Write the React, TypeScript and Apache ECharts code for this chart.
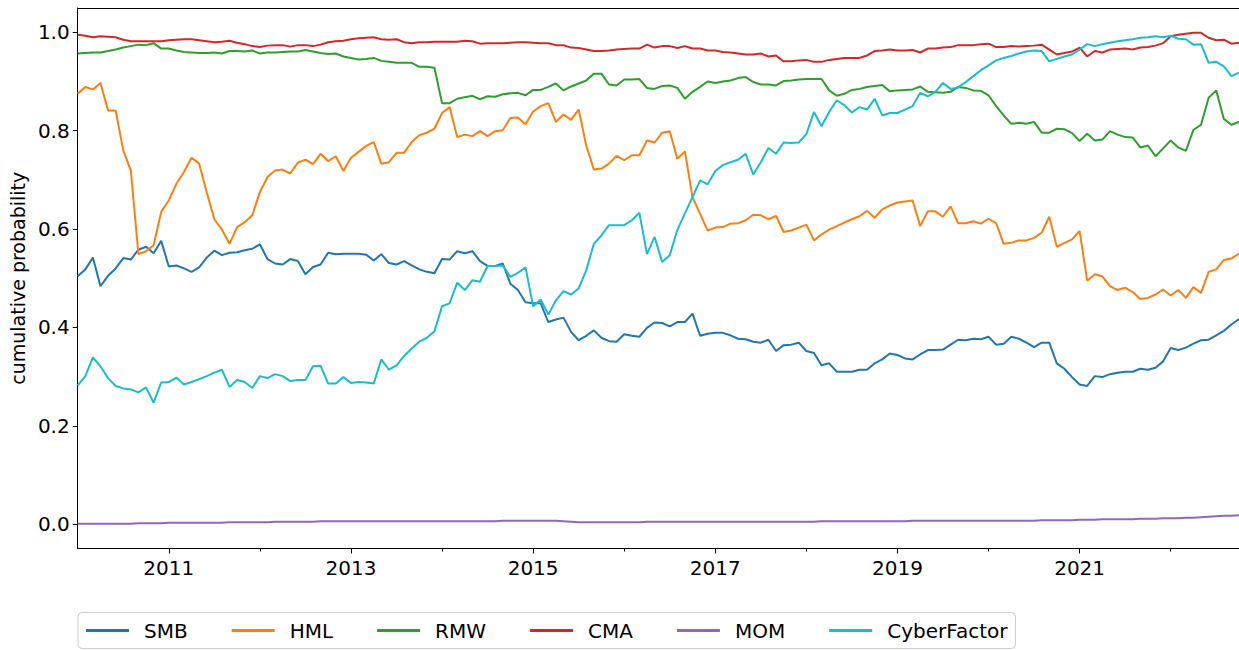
import React, { useEffect, useRef } from "react";
import * as echarts from "echarts";

// Monthly observations, Jan 2010 .. Oct 2022 (154 months), as decimal years
const START_YEAR = 2010;
const MONTH_COUNT = 154;
const months: number[] = Array.from({ length: MONTH_COUNT }, (_, i) => START_YEAR + i / 12);

const seriesNames = ["SMB", "HML", "RMW", "CMA", "MOM", "CyberFactor"];
const seriesColors = ["#1f77b4", "#ff7f0e", "#2ca02c", "#d62728", "#9467bd", "#17becf"];

const majorYearTicks = [2011, 2013, 2015, 2017, 2019, 2021];
const minorYearTicks = [2012, 2014, 2016, 2018, 2020, 2022];
const yTickValues = [0, 0.2, 0.4, 0.6, 0.8, 1.0];

const smb = [
  0.504, 0.518, 0.542, 0.484, 0.505, 0.520, 0.541, 0.538, 0.558, 0.564,
  0.551, 0.576, 0.524, 0.526, 0.520, 0.513, 0.522, 0.542, 0.556, 0.547,
  0.552, 0.553, 0.557, 0.560, 0.569, 0.539, 0.530, 0.528, 0.539, 0.535,
  0.508, 0.523, 0.528, 0.552, 0.549, 0.550, 0.550, 0.550, 0.548, 0.536,
  0.549, 0.531, 0.528, 0.535, 0.526, 0.518, 0.513, 0.510, 0.539, 0.538,
  0.555, 0.551, 0.555, 0.535, 0.525, 0.525, 0.530, 0.489, 0.476, 0.451,
  0.449, 0.449, 0.411, 0.416, 0.420, 0.391, 0.374, 0.383, 0.394, 0.379,
  0.372, 0.371, 0.386, 0.383, 0.381, 0.399, 0.410, 0.409, 0.402, 0.411,
  0.411, 0.428, 0.383, 0.387, 0.389, 0.389, 0.384, 0.377, 0.376, 0.371,
  0.369, 0.375, 0.352, 0.364, 0.365, 0.369, 0.352, 0.348, 0.323, 0.327,
  0.310, 0.310, 0.310, 0.314, 0.314, 0.327, 0.335, 0.347, 0.344, 0.337,
  0.335, 0.345, 0.354, 0.354, 0.355, 0.365, 0.375, 0.374, 0.377, 0.376,
  0.381, 0.365, 0.367, 0.381, 0.377, 0.369, 0.360, 0.369, 0.369, 0.327,
  0.316, 0.299, 0.284, 0.281, 0.301, 0.299, 0.305, 0.308, 0.310, 0.310,
  0.316, 0.314, 0.318, 0.331, 0.358, 0.354, 0.359, 0.367, 0.374, 0.375,
  0.384, 0.393, 0.406, 0.417,
];

const hml = [
  0.875, 0.889, 0.884, 0.897, 0.841, 0.841, 0.760, 0.719, 0.549, 0.555,
  0.567, 0.635, 0.658, 0.692, 0.716, 0.745, 0.733, 0.675, 0.620, 0.599,
  0.570, 0.604, 0.614, 0.628, 0.675, 0.706, 0.719, 0.721, 0.713, 0.735,
  0.741, 0.732, 0.753, 0.738, 0.748, 0.718, 0.745, 0.757, 0.769, 0.777,
  0.733, 0.736, 0.755, 0.755, 0.777, 0.791, 0.796, 0.804, 0.836, 0.848,
  0.787, 0.792, 0.789, 0.799, 0.789, 0.799, 0.801, 0.826, 0.827, 0.813,
  0.839, 0.850, 0.856, 0.818, 0.833, 0.822, 0.843, 0.770, 0.721, 0.723,
  0.733, 0.749, 0.740, 0.750, 0.750, 0.780, 0.776, 0.796, 0.799, 0.743,
  0.758, 0.665, 0.631, 0.597, 0.603, 0.604, 0.611, 0.612, 0.618, 0.629,
  0.628, 0.620, 0.627, 0.594, 0.597, 0.603, 0.609, 0.577, 0.589, 0.599,
  0.606, 0.613, 0.620, 0.626, 0.637, 0.623, 0.640, 0.648, 0.654, 0.656,
  0.658, 0.606, 0.636, 0.636, 0.625, 0.646, 0.612, 0.612, 0.616, 0.611,
  0.621, 0.612, 0.570, 0.572, 0.577, 0.577, 0.582, 0.593, 0.625, 0.564,
  0.572, 0.579, 0.596, 0.495, 0.508, 0.504, 0.484, 0.476, 0.481, 0.472,
  0.458, 0.460, 0.467, 0.477, 0.465, 0.476, 0.460, 0.482, 0.470, 0.513,
  0.518, 0.537, 0.540, 0.550,
];

const rmw = [
  0.957, 0.958, 0.959, 0.959, 0.962, 0.965, 0.969, 0.972, 0.975, 0.974,
  0.978, 0.967, 0.967, 0.963, 0.960, 0.959, 0.958, 0.958, 0.959, 0.957,
  0.962, 0.962, 0.961, 0.963, 0.957, 0.959, 0.959, 0.960, 0.961, 0.961,
  0.964, 0.961, 0.958, 0.956, 0.957, 0.951, 0.948, 0.945, 0.946, 0.948,
  0.942, 0.940, 0.938, 0.938, 0.938, 0.930, 0.930, 0.928, 0.856, 0.856,
  0.865, 0.868, 0.871, 0.864, 0.870, 0.869, 0.874, 0.876, 0.877, 0.872,
  0.883, 0.883, 0.889, 0.896, 0.882, 0.890, 0.896, 0.902, 0.916, 0.916,
  0.894, 0.892, 0.904, 0.904, 0.905, 0.887, 0.885, 0.891, 0.892, 0.887,
  0.865, 0.879, 0.889, 0.900, 0.897, 0.900, 0.902, 0.907, 0.909, 0.899,
  0.894, 0.894, 0.892, 0.901, 0.902, 0.904, 0.905, 0.905, 0.905, 0.882,
  0.871, 0.875, 0.883, 0.885, 0.889, 0.891, 0.893, 0.880, 0.882, 0.883,
  0.884, 0.890, 0.879, 0.878, 0.877, 0.879, 0.889, 0.887, 0.882, 0.881,
  0.872, 0.850, 0.831, 0.814, 0.816, 0.814, 0.818, 0.796, 0.796, 0.804,
  0.803, 0.795, 0.779, 0.794, 0.780, 0.782, 0.799, 0.792, 0.787, 0.786,
  0.766, 0.770, 0.748, 0.764, 0.780, 0.766, 0.759, 0.802, 0.812, 0.867,
  0.882, 0.824, 0.812, 0.818,
];

const cma = [
  0.995, 0.993, 0.990, 0.992, 0.991, 0.990, 0.985, 0.982, 0.982, 0.982,
  0.982, 0.982, 0.984, 0.985, 0.986, 0.986, 0.984, 0.982, 0.980, 0.981,
  0.983, 0.979, 0.976, 0.972, 0.970, 0.973, 0.974, 0.974, 0.971, 0.974,
  0.974, 0.972, 0.975, 0.980, 0.982, 0.983, 0.986, 0.988, 0.989, 0.990,
  0.986, 0.985, 0.986, 0.980, 0.978, 0.980, 0.980, 0.981, 0.981, 0.981,
  0.981, 0.983, 0.982, 0.977, 0.978, 0.978, 0.978, 0.979, 0.980, 0.980,
  0.979, 0.978, 0.978, 0.974, 0.974, 0.969, 0.968, 0.965, 0.962, 0.962,
  0.963, 0.965, 0.966, 0.967, 0.967, 0.975, 0.969, 0.972, 0.972, 0.968,
  0.972, 0.967, 0.967, 0.963, 0.963, 0.960, 0.959, 0.957, 0.955, 0.955,
  0.957, 0.951, 0.953, 0.941, 0.941, 0.943, 0.944, 0.940, 0.940, 0.944,
  0.946, 0.948, 0.948, 0.948, 0.953, 0.962, 0.963, 0.965, 0.963, 0.963,
  0.964, 0.959, 0.967, 0.967, 0.969, 0.970, 0.974, 0.974, 0.974, 0.976,
  0.977, 0.970, 0.970, 0.972, 0.971, 0.972, 0.973, 0.975, 0.965, 0.955,
  0.958, 0.961, 0.969, 0.951, 0.962, 0.959, 0.965, 0.966, 0.967, 0.965,
  0.969, 0.970, 0.973, 0.978, 0.992, 0.995, 0.997, 0.999, 0.999, 0.989,
  0.984, 0.985, 0.977, 0.979,
];

const mom = [
  0.001, 0.001, 0.001, 0.001, 0.001, 0.001, 0.001, 0.001, 0.002, 0.002,
  0.002, 0.002, 0.003, 0.003, 0.003, 0.003, 0.003, 0.003, 0.003, 0.003,
  0.004, 0.004, 0.004, 0.004, 0.004, 0.004, 0.005, 0.005, 0.005, 0.005,
  0.005, 0.005, 0.006, 0.006, 0.006, 0.006, 0.006, 0.006, 0.006, 0.006,
  0.006, 0.006, 0.006, 0.006, 0.006, 0.006, 0.006, 0.006, 0.006, 0.006,
  0.006, 0.006, 0.006, 0.006, 0.006, 0.006, 0.007, 0.007, 0.007, 0.007,
  0.007, 0.007, 0.007, 0.007, 0.006, 0.005, 0.004, 0.004, 0.004, 0.004,
  0.004, 0.004, 0.004, 0.004, 0.004, 0.005, 0.005, 0.005, 0.005, 0.005,
  0.005, 0.005, 0.005, 0.005, 0.005, 0.005, 0.005, 0.005, 0.005, 0.005,
  0.005, 0.005, 0.005, 0.005, 0.005, 0.005, 0.005, 0.005, 0.006, 0.006,
  0.006, 0.006, 0.006, 0.006, 0.006, 0.006, 0.006, 0.006, 0.006, 0.006,
  0.007, 0.007, 0.007, 0.007, 0.007, 0.007, 0.007, 0.007, 0.007, 0.007,
  0.007, 0.007, 0.007, 0.007, 0.007, 0.007, 0.007, 0.008, 0.008, 0.008,
  0.008, 0.008, 0.009, 0.009, 0.009, 0.010, 0.010, 0.010, 0.010, 0.010,
  0.011, 0.011, 0.011, 0.012, 0.012, 0.012, 0.013, 0.013, 0.014, 0.015,
  0.016, 0.017, 0.017, 0.018,
];

const cyber = [
  0.282, 0.301, 0.339, 0.321, 0.297, 0.281, 0.276, 0.274, 0.268, 0.278,
  0.247, 0.288, 0.289, 0.298, 0.284, 0.289, 0.295, 0.301, 0.308, 0.314,
  0.279, 0.293, 0.289, 0.277, 0.301, 0.297, 0.305, 0.301, 0.291, 0.293,
  0.293, 0.321, 0.322, 0.286, 0.286, 0.299, 0.287, 0.289, 0.288, 0.286,
  0.335, 0.314, 0.323, 0.342, 0.357, 0.371, 0.379, 0.392, 0.443, 0.449,
  0.491, 0.476, 0.496, 0.493, 0.525, 0.525, 0.526, 0.503, 0.511, 0.522,
  0.443, 0.457, 0.426, 0.455, 0.474, 0.467, 0.479, 0.516, 0.570, 0.587,
  0.608, 0.608, 0.608, 0.618, 0.633, 0.549, 0.584, 0.533, 0.547, 0.598,
  0.632, 0.665, 0.699, 0.691, 0.718, 0.730, 0.736, 0.741, 0.753, 0.711,
  0.736, 0.765, 0.753, 0.776, 0.775, 0.776, 0.793, 0.838, 0.809, 0.838,
  0.862, 0.852, 0.837, 0.848, 0.843, 0.865, 0.831, 0.836, 0.836, 0.843,
  0.850, 0.877, 0.870, 0.879, 0.897, 0.885, 0.888, 0.899, 0.911, 0.923,
  0.933, 0.943, 0.948, 0.952, 0.957, 0.961, 0.963, 0.962, 0.941, 0.946,
  0.951, 0.955, 0.965, 0.976, 0.972, 0.976, 0.979, 0.982, 0.984, 0.986,
  0.989, 0.990, 0.992, 0.990, 0.993, 0.987, 0.986, 0.975, 0.976, 0.938,
  0.940, 0.931, 0.911, 0.918,
];

const seriesValues = [smb, hml, rmw, cma, mom, cyber];

const FONT = "'DejaVu Sans', sans-serif";

export default function App() {
  const ref = useRef<HTMLDivElement>(null);

  useEffect(() => {
    document.body.style.margin = "0";
    if (!ref.current) return;
    const chart = echarts.init(ref.current, undefined, { renderer: "svg" });
    const xMin = months[0];
    const xMax = months[months.length - 1];

    chart.setOption({
      animation: false,
      grid: { left: 77.5, right: 0, top: 8, bottom: 101.5, show: false },
      xAxis: [
        {
          type: "value",
          min: xMin,
          max: xMax,
          position: "bottom",
          axisLine: { show: true, onZero: false, lineStyle: { color: "#000", width: 1 } },
          axisTick: { show: true, length: 5, customValues: majorYearTicks, lineStyle: { color: "#000", width: 1 } },
          axisLabel: {
            customValues: majorYearTicks,
            formatter: (v: number) => String(Math.round(v)),
            color: "#000",
            fontSize: 20,
            fontFamily: FONT,
            margin: 9,
            showMinLabel: true,
            showMaxLabel: true,
          },
          splitLine: { show: false },
        },
        {
          type: "value",
          min: xMin,
          max: xMax,
          position: "bottom",
          axisLine: { show: false, onZero: false },
          axisTick: { show: true, length: 3, customValues: minorYearTicks, lineStyle: { color: "#000", width: 1 } },
          axisLabel: { show: false },
          splitLine: { show: false },
        },
        {
          type: "value",
          min: xMin,
          max: xMax,
          position: "top",
          axisLine: { show: true, onZero: false, lineStyle: { color: "#000", width: 1 } },
          axisTick: { show: false },
          axisLabel: { show: false },
          splitLine: { show: false },
        },
      ],
      yAxis: {
        type: "value",
        min: -0.0495,
        max: 1.0495,
        axisLine: { show: true, onZero: false, lineStyle: { color: "#000", width: 1 } },
        axisTick: { show: true, length: 5, customValues: yTickValues, lineStyle: { color: "#000", width: 1 } },
        axisLabel: {
          customValues: yTickValues,
          formatter: (v: number) => v.toFixed(1),
          color: "#000",
          fontSize: 20,
          fontFamily: FONT,
          margin: 8,
        },
        splitLine: { show: false },
        name: "cumulative probability",
        nameLocation: "middle",
        nameGap: 45,
        nameTextStyle: { color: "#000", fontSize: 19, fontFamily: FONT },
      },
      legend: {
        left: 78,
        top: 612.5,
        orient: "horizontal",
        padding: [8, 8, 8, 8],
        itemGap: 44,
        itemWidth: 43,
        itemHeight: 3,
        icon: "rect",
        borderColor: "#cccccc",
        borderWidth: 1,
        borderRadius: 4,
        backgroundColor: "#ffffff",
        textStyle: { color: "#000", fontSize: 20, fontFamily: FONT, padding: [0, 0, 0, 10] },
        data: seriesNames,
      },
      series: seriesNames.map((name, k) => ({
        name,
        type: "line",
        xAxisIndex: 0,
        yAxisIndex: 0,
        symbol: "none",
        color: seriesColors[k],
        lineStyle: { width: 2, color: seriesColors[k] },
        data: months.map((m, i) => [m, seriesValues[k][i]]),
      })),
    });

    return () => chart.dispose();
  }, []);

  return <div ref={ref} style={{ width: 1239, height: 650 }} />;
}
